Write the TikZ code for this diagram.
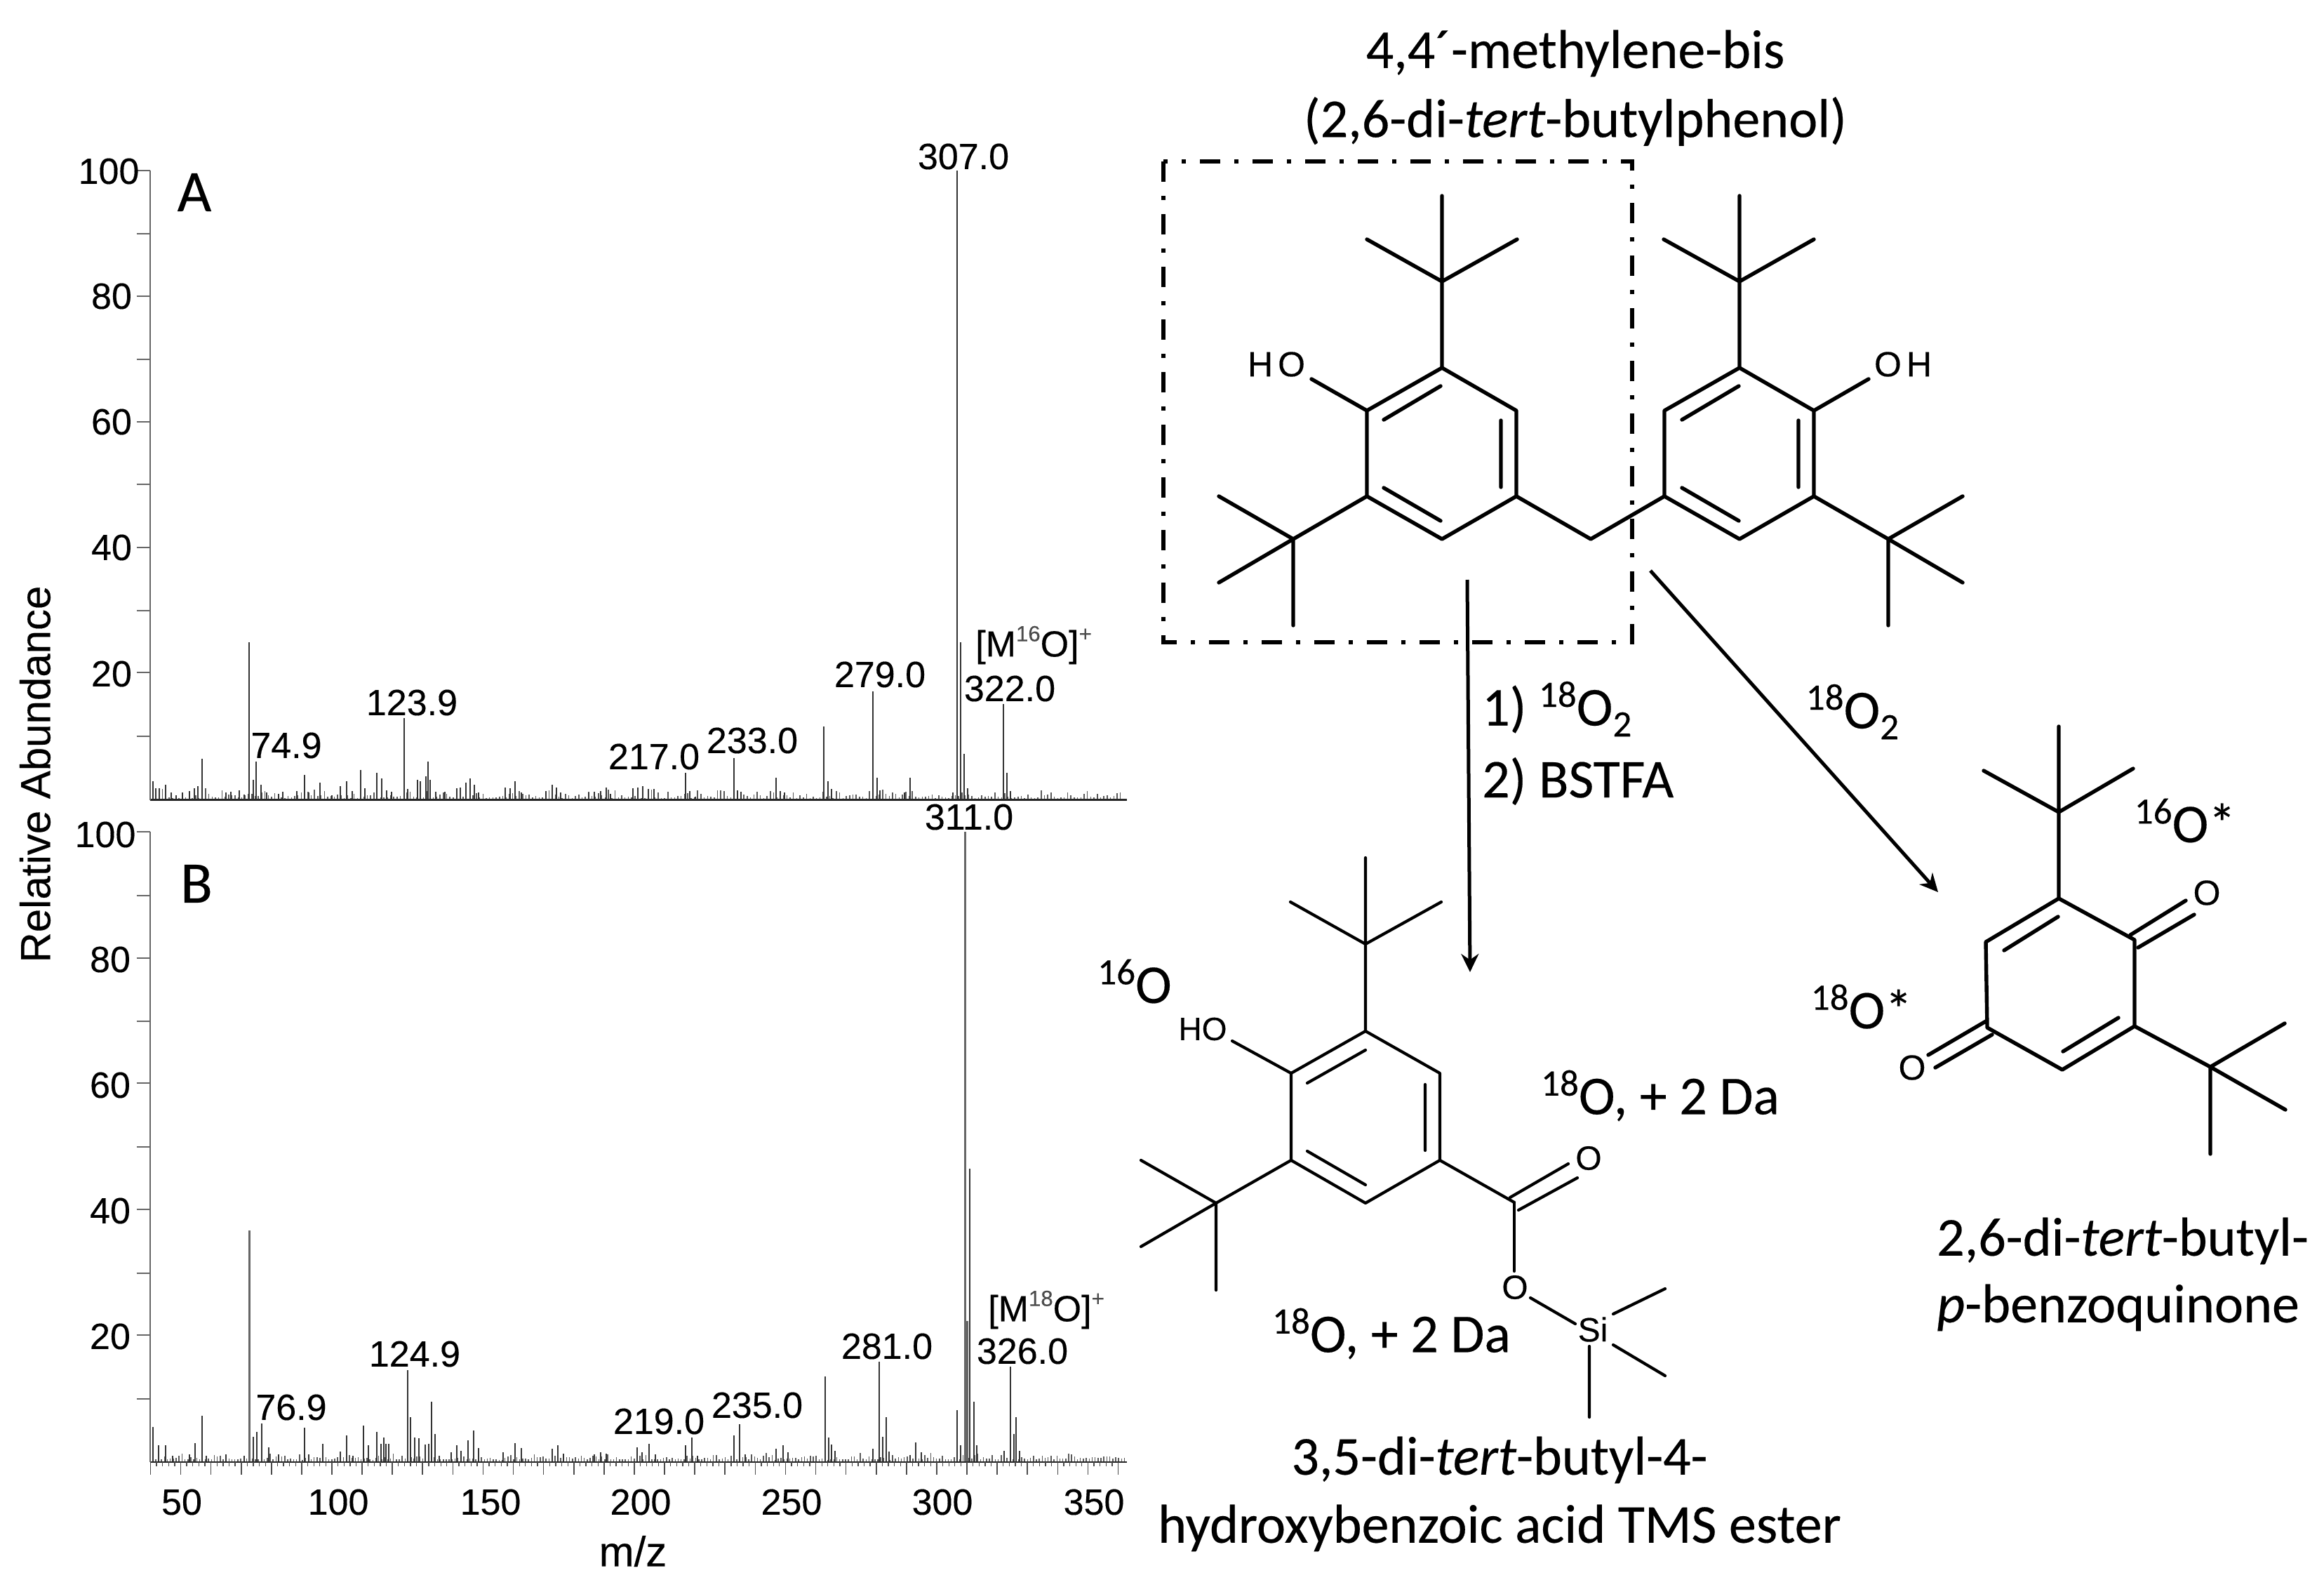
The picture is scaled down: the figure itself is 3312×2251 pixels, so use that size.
\documentclass[tikz,border=0pt]{standalone}
\usepackage{fontspec}
\usepackage{graphicx}
\usetikzlibrary{arrows.meta}
\setmainfont[FakeBold=0.25]{Carlito}
\newfontfamily\arialf[FakeBold=0.25]{Liberation Sans}
\newcommand{\supn}[1]{\raisebox{0.34em}{\scalebox{0.68}{#1}}}
\newcommand{\subn}[1]{\raisebox{-0.2em}{\scalebox{0.68}{#1}}}
\newcommand{\supa}[1]{\raisebox{0.42em}{\scalebox{0.6}{\color{black!70}#1}}}
\tikzset{
 lab/.style={inner sep=0pt,font=\arialf\fontsize{52}{56}\selectfont},
 axlab/.style={inner sep=0pt,font=\arialf\fontsize{60}{64}\selectfont},
 big/.style={inner sep=0pt,font=\fontsize{78}{84}\selectfont},
 panel/.style={inner sep=0pt,font=\fontsize{84}{90}\selectfont},
 atom/.style={inner sep=0pt,font=\arialf\fontsize{48}{52}\selectfont},
 bond/.style={line width=5.4pt,line cap=round,line join=round},
 thinbond/.style={line width=4.2pt,line cap=round,line join=round},
 selbox/.style={line width=6pt,dash pattern=on 29pt off 20pt on 6pt off 20pt},
 rxn/.style={line width=5pt,-{Stealth[length=26pt,width=25pt]}},
 peak/.style={line width=2pt,black!80},
 grass/.style={line width=1.5pt,black!65},
 axisl/.style={line width=2pt,black!60},
 base/.style={line width=2.2pt,black!85},
}
\begin{document}
\begin{tikzpicture}[x=1pt,y=-1pt]
\useasboundingbox (0,0) rectangle (3312,2251);
\fill[white] (0,0) rectangle (3312,2251);
% ---------- spectrum A
\begin{scope}[x=1.046pt,y=-0.638pt,shift={(0,282.13)}]
\pgfmathsetseed{1234}
\foreach \gx in {208,212.5,...,1530}{
  \pgfmathsetmacro\gt{1504-4-rnd*rnd*22}
  \draw[grass] (\gx,1504)--(\gx,\gt);
}
\foreach \px/\pt in {208/1462,212/1478,217/1478,226/1470,233/1488,240/1494,249/1488,258/1484,265/1478,270/1474,275/1412,308/1488,315/1486,326/1482,333/1492,339/1152,345/1460,349/1418,356/1470,363/1488,380/1490,385/1486,404/1484,415/1448,421/1488,436/1466,452/1494,464/1474,472/1462,480/1484,491/1437,497/1478,513/1443,520/1456,527/1482,533/1486,551/1321,555/1480,569/1460,573/1462,580/1452,583/1418,586/1460,594/1486,606/1486,622/1478,627/1476,635/1466,641/1456,646/1470,652/1488,688/1476,695/1478,702/1462,710/1488,744/1484,752/1470,758/1476,764/1488,802/1488,810/1486,818/1484,826/1477,832/1490,862/1478,869/1476,876/1474,883/1480,891/1480,934/1444,940/1484,947/1497,1000/1411,1005/1482,1010/1486,1057/1455,1063/1485,1069/1488,1122/1340,1128/1462,1133/1480,1189/1261,1195/1455,1199/1482,1240/1455,1232/1488,1298/1488,1304/98,1309/1152,1314/1402,1318/1478,1367/1290,1372/1443,1377/1484}{
  \draw[peak] (\px,1504)--(\px,\pt);
}
\draw[base] (205,1504)--(1535,1504);
\draw[axisl] (205,98)--(205,1504);
\foreach \ty in {98,380,660,940,1220}{\draw[axisl] (186,\ty)--(205,\ty);}
\foreach \ty in {240,520,800,1081,1362}{\draw[axisl] (186,\ty)--(205,\ty);}
\end{scope}
% ---------- spectrum B
\begin{scope}[x=1.046pt,y=-0.715pt,shift={(0,1580.4)}]
\pgfmathsetseed{4321}
\foreach \gx in {208,212,...,1532}{
  \pgfmathsetmacro\gt{1333-5-rnd*rnd*14}
  \draw[grass] (\gx,1333)--(\gx,\gt);
}
\foreach \px/\pt in {208/1263,216/1300,226/1300,235/1320,258/1318,266/1295,275/1240,281/1320,308/1318,333/1320,345/1283,350/1273,357/1256,366/1303,380/1318,415/1264,421/1317,440/1297,464/1312,472/1280,481/1320,495/1260,502/1300,513/1273,519/1296,523/1284,526/1297,530/1297,555/1150,559/1243,565/1284,571/1286,579/1298,584/1297,588/1213,593/1277,598/1320,615/1313,622/1300,628/1310,638/1290,645/1270,652/1305,685/1313,702/1295,710/1305,752/1306,760/1300,768/1316,810/1318,818/1313,826/1316,868/1303,875/1313,884/1297,893/1318,934/1300,943/1284,950/1320,1000/1280,1008/1257,1015/1317,1057/1306,1067/1300,1074/1313,1124/1162,1129/1284,1133/1298,1138/1310,1189/1306,1198/1133,1203/1283,1207/1243,1211/1312,1240/1319,1248/1294,1255/1313,1304/1230,1309/1300,1321/748,1327/1213,1331/1300,1368/1311,1377/1143,1381/1277,1384/1243,1389/1310}{
  \draw[peak] (\px,1333)--(\px,\pt);
}
\draw[line width=2.8pt,black!60] (340,1333)--(340,871);
\draw[line width=2.8pt,black!60] (1315,1333)--(1315,77);
\draw[line width=2.8pt,black!60] (1318,1333)--(1318,1052);
\draw[base] (205,1333)--(1535,1333);
\draw[axisl] (205,77)--(205,1333);
\foreach \ty in {77,204,328,454,578,705,829,956,1080,1207}{\draw[axisl] (186,\ty)--(205,\ty);}
\foreach \i in {0,...,160}{
  \pgfmathsetmacro\tx{205+\i*8.24}
  \draw[line width=1.3pt,black!70] (\tx,1333)--(\tx,1341);
}
\foreach \i in {0,...,32}{
  \pgfmathsetmacro\tx{205+\i*41.2}
  \draw[line width=1.6pt,black!70] (\tx,1333)--(\tx,1358);
}
\end{scope}
% ---------- spectrum labels
\node[panel] (pA) at (277,274) {A};
\node[panel] (pB) at (280,1259) {B};
\node[lab] (a100) at (155,244) {100};
\node[lab] (a80) at (159,422) {80};
\node[lab] (a60) at (159,601) {60};
\node[lab] (a40) at (159,780) {40};
\node[lab] (a20) at (159,960) {20};
\node[lab] (a307) at (1373,223) {307.0};
\node[lab] (a749) at (408,1062) {74.9};
\node[lab] (a124) at (587,1001) {123.9};
\node[lab] (a217) at (932,1078) {217.0};
\node[lab] (a233) at (1072,1055) {233.0};
\node[lab] (a279) at (1254,961) {279.0};
\node[lab] (a322) at (1439,981) {322.0};
\node[lab] (aM) at (1473,919) {[M\supa{16}O]\supa{+}};
\node[lab] (b100) at (150,1189) {100};
\node[lab] (b80) at (157,1367) {80};
\node[lab] (b60) at (157,1546) {60};
\node[lab] (b40) at (157,1725) {40};
\node[lab] (b20) at (157,1904) {20};
\node[lab] (b311) at (1381,1164) {311.0};
\node[lab] (b769) at (415,2005) {76.9};
\node[lab] (b125) at (591,1929) {124.9};
\node[lab] (b219) at (939,2025) {219.0};
\node[lab] (b235) at (1079,2002) {235.0};
\node[lab] (b281) at (1264,1918) {281.0};
\node[lab] (b326) at (1457,1925) {326.0};
\node[lab] (bM) at (1491,1866) {[M\supa{18}O]\supa{+}};
\node[lab] (x50) at (259,2140) {50};
\node[lab] (x100) at (482,2140) {100};
\node[lab] (x150) at (699,2140) {150};
\node[lab] (x200) at (913,2140) {200};
\node[lab] (x250) at (1128,2140) {250};
\node[lab] (x300) at (1343,2140) {300};
\node[lab] (x350) at (1559,2140) {350};
\node[axlab] (mz) at (902,2210) {m/z};
\node[axlab,rotate=90] (ra) at (50,1103) {Relative Abundance};
% ---------- parent molecule
\node[big] (t1) at (2245,76) {4,4´-methylene-bis};
\node[big] (t2) at (2245,173) {(2,6-di-\textit{tert}-butylphenol)};
\draw[selbox] (1658,230) rectangle (2326,915);
\coordinate (la) at (2055,524); \coordinate (lb) at (2161,585); \coordinate (lc) at (2161,707);
\coordinate (ld) at (2055,768); \coordinate (le) at (1948,707); \coordinate (lf) at (1948,585);
\coordinate (ra1) at (2479,524); \coordinate (rb) at (2585,585); \coordinate (rc) at (2585,707);
\coordinate (rd) at (2479,768); \coordinate (re) at (2372,707); \coordinate (rf) at (2372,585);
\coordinate (ch2) at (2267,768);
\draw[bond] (la)--(lb)--(lc)--(ld)--(le)--(lf)--cycle;
\draw[bond] (ra1)--(rb)--(rc)--(rd)--(re)--(rf)--cycle;
\draw[bond] (lc)--(ch2)--(re);
\draw[bond] (1972,598)--(2053,550) (2139,599)--(2139,694) (1972,695)--(2053,742);
\draw[bond] (2397,598)--(2478,550) (2563,599)--(2563,694) (2397,695)--(2478,742);
\coordinate (ltb) at (2055,401); \coordinate (rtb) at (2479,401);
\coordinate (llb) at (1843,768); \coordinate (rlb) at (2691,768);
\draw[bond] (la)--(ltb) (ltb)--(2055,279) (ltb)--(1948,341) (ltb)--(2162,341);
\draw[bond] (ra1)--(rtb) (rtb)--(2479,279) (rtb)--(2371,341) (rtb)--(2585,341);
\draw[bond] (le)--(llb) (llb)--(1737,707) (llb)--(1737,830) (llb)--(1843,891);
\draw[bond] (rc)--(rlb) (rlb)--(2797,707) (rlb)--(2797,830) (rlb)--(2691,891);
\node[atom,font=\arialf\fontsize{50}{54}\selectfont] (ho1) at (1819,519) {H\kern7pt O};
\node[atom,font=\arialf\fontsize{50}{54}\selectfont] (oh1) at (2712,519) {O\kern7pt H};
\draw[bond] (lf)--(1869,540);
\draw[bond] (rb)--(2663,540);
% ---------- reaction arrows
\coordinate (v1) at (2091,826); \coordinate (v2) at (2095,1385);
\coordinate (d1) at (2352,813); \coordinate (d2) at (2762,1271);
\draw[rxn] (v1)--(v2);
\draw[rxn] (d1)--(d2);
\node[big,anchor=west] (s1) at (2112,1010) {1) \supn{18}O\subn{2}};
\node[big,anchor=west] (s2) at (2112,1113) {2) BSTFA};
\node[big] (s3) at (2640,1014) {\supn{18}O\subn{2}};
% ---------- acid ester
\coordinate (ma) at (1946,1469); \coordinate (mb) at (2052,1529); \coordinate (mc) at (2052,1653);
\coordinate (md) at (1946,1714); \coordinate (me) at (1840,1653); \coordinate (mf) at (1840,1529);
\draw[thinbond] (ma)--(mb)--(mc)--(md)--(me)--(mf)--cycle;
\draw[thinbond] (1863,1543)--(1946,1496) (2031,1545)--(2031,1639) (1863,1640)--(1946,1688);
\coordinate (mt) at (1946,1345); \coordinate (ml) at (1733,1714);
\draw[thinbond] (ma)--(mt) (mt)--(1946,1222) (mt)--(1839,1285) (mt)--(2054,1285);
\draw[thinbond] (me)--(ml) (ml)--(1626,1653) (ml)--(1626,1776) (ml)--(1733,1838);
\draw[thinbond] (mf)--(1756,1483);
\node[atom,font=\arialf\fontsize{46}{50}\selectfont] (ho2) at (1714,1466) {HO};
\coordinate (cc) at (2158,1713);
\draw[thinbond] (mc)--(cc);
\draw[thinbond] (2152,1706)--(2235,1658) (2164,1724)--(2248,1678);
\node[atom] (o1) at (2264,1650) {O};
\node[atom] (o2) at (2159,1834) {O};
\node[atom] (si) at (2270,1894) {Si};
\draw[thinbond] (cc)--(2158,1811);
\draw[thinbond] (2181,1849)--(2245,1886);
\draw[thinbond] (2299,1872)--(2373,1836) (2299,1916)--(2373,1960) (2265,1918)--(2265,2019);
\node[big] (l1) at (1617,1398) {\supn{16}O};
\node[big] (l2) at (2366,1561) {\supn{18}O, + 2 Da};
\node[big] (l3) at (1983,1900) {\supn{18}O, + 2 Da};
\node[big] (n1) at (2137,2080) {3,5-di-\textit{tert}-butyl-4-};
\node[big] (n2) at (2137,2177) {hydroxybenzoic acid TMS ester};
% ---------- quinone
\coordinate (qa) at (2934,1280); \coordinate (qb) at (3042,1339); \coordinate (qc) at (3042,1462);
\coordinate (qd) at (2939,1524); \coordinate (qe) at (2832,1464); \coordinate (qf) at (2830,1342);
\draw[bond] (qa)--(qb)--(qc)--(qd)--(qe)--(qf)--cycle;
\draw[bond] (2856,1354)--(2933,1306) (2940,1498)--(3019,1450);
\coordinate (qt) at (2934,1157); \coordinate (qr) at (3150,1520);
\draw[bond] (qa)--(qt) (qt)--(2934,1035) (qt)--(2827,1098) (qt)--(3040,1095);
\draw[bond] (qc)--(qr) (qr)--(3256,1458) (qr)--(3257,1581) (qr)--(3150,1644);
\draw[bond] (3036,1332)--(3115,1283) (3047,1350)--(3127,1303);
\draw[bond] (2830,1455)--(2748,1503) (2839,1474)--(2758,1521);
\node[atom,font=\arialf\fontsize{50}{54}\selectfont] (qo1) at (3145,1272) {O};
\node[atom,font=\arialf\fontsize{50}{54}\selectfont] (qo2) at (2725,1521) {O};
\node[big] (q1) at (3114,1169) {\supn{16}O*};
\node[big] (q2) at (2653,1434) {\supn{18}O*};
\node[big,anchor=west] (q3) at (2760,1768) {2,6-di-\textit{tert}-butyl-};
\node[big,anchor=west] (q4) at (2760,1863) {\textit{p}-benzoquinone};
\end{tikzpicture}
\end{document}
